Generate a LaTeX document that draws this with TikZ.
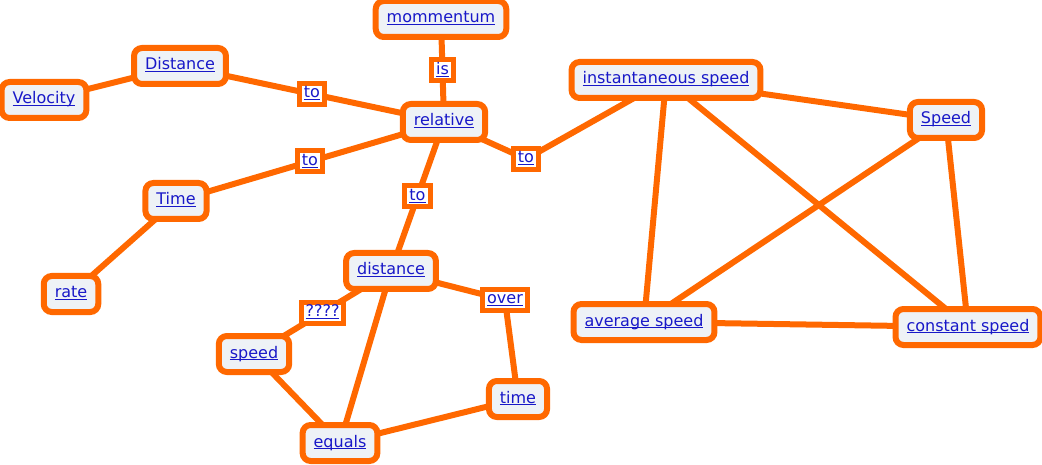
\documentclass[tikz,border=0pt]{standalone}
\usepackage{fontspec}
\setmainfont{DejaVu Sans}
\usepackage{xcolor}
\usetikzlibrary{shapes,positioning,backgrounds}

\definecolor{cmaporange}{RGB}{255,104,0}
\definecolor{cmapfill}{RGB}{238,242,246}
\definecolor{cmaplink}{RGB}{24,24,200}

% underlined link text
\newcommand{\lnk}[1]{\mbox{\setbox0=\hbox{#1}\rlap{\rule[-2.2pt]{\wd0}{1.1pt}}\box0}}

\begin{document}
\begin{tikzpicture}[
    x = 1pt, y = -1pt,
    every node/.style = {align=center, text=cmaplink, font=\fontsize{16}{18}\selectfont},
    concept/.style = {draw=cmaporange, line width=6pt, fill=cmapfill, rounded corners=8pt,
                      inner xsep=11pt, minimum height=36pt, text height=11.5pt, text depth=3.5pt},
    linkbox/.style = {draw=cmaporange, line width=5pt, fill=white, rounded corners=0pt,
                      inner xsep=4.5pt, inner ysep=0pt, minimum height=21pt,
                      text height=11.5pt, text depth=3.5pt},
    link/.style = {draw=cmaporange, line width=6pt}
  ]
  \useasboundingbox (0,0) rectangle (1042,465);

  \node[concept] (Mom)   at (441,19)  {\lnk{mommentum}};
  \node[concept] (Dist)  at (180,66)  {\lnk{Distance}};
  \node[concept] (Vel)   at (44,100)  {\lnk{Velocity}};
  \node[concept] (Rel)   at (444,122) {\lnk{relative}};
  \node[concept] (Time)  at (176,201) {\lnk{Time}};
  \node[concept] (Rate)  at (71,294)  {\lnk{rate}};
  \node[concept] (dist)  at (391,271) {\lnk{distance}};
  \node[concept] (speed) at (254,354) {\lnk{speed}};
  \node[concept] (time)  at (518,399) {\lnk{time}};
  \node[concept] (Eq)    at (340,443) {\lnk{equals}};
  \node[concept] (Inst)  at (666,80)  {\lnk{instantaneous speed}};
  \node[concept] (Speed) at (946,120) {\lnk{Speed}};
  \node[concept] (Avg)   at (644,322) {\lnk{average speed}};
  \node[concept] (Const) at (968,327) {\lnk{constant speed}};

  \node[linkbox] (ToInst) at (526,159) {\lnk{to}};
  \node[linkbox] (Over)   at (505,300) {\lnk{over}};

  \begin{scope}[on background layer]
    \path[link] (Mom.center)  edge node[linkbox] (Is)     {\lnk{is}}   (Rel.center)
                (Dist.center) edge node[linkbox] (ToDist) {\lnk{to}}   (Rel.center)
                (Rel.center)  edge node[linkbox] (ToTime) {\lnk{to}}   (Time.center)
                (Rel.center)  edge node[linkbox] (ToD)    {\lnk{to}}   (dist.center)
                (dist.center) edge node[linkbox] (Ask)    {\lnk{????}} (speed.center)
                (Vel.center)  edge (Dist.center)
                (Time.center) edge (Rate.center)
                (dist.center) edge (Eq.center)
                (speed.center) edge (Eq.center)
                (Eq.center)   edge (time.center)
                (Inst.center) edge (Speed.center)
                (Inst.center) edge (Avg.center)
                (Inst.center) edge (Const.center)
                (Speed.center) edge (Avg.center)
                (Speed.center) edge (Const.center)
                (Avg.center)  edge (Const.center);

    \draw[link] (Rel.center) -- (ToInst.center) -- (Inst.center);
    \draw[link] (dist.center) -- (Over.center) -- (time.center);
  \end{scope}

\end{tikzpicture}
\end{document}
